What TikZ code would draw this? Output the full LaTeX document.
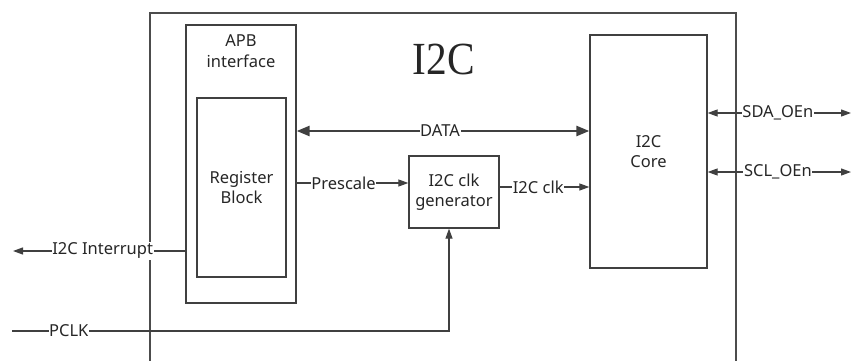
\documentclass[tikz,border=0pt]{standalone}
\usepackage{fontspec}
\setmainfont{Noto Sans}
\newfontfamily\titlefont{Liberation Serif}
\usetikzlibrary{arrows.meta}
\begin{document}
\begin{tikzpicture}[x=1pt,y=-1pt,
  line width=1.2pt, draw=black!75,
  every node/.style={font=\fontsize{16.5}{20.5}\selectfont, text=black!85},
  blk/.style={draw=black!75, line width=1.3pt, inner sep=0pt, align=center},
  lbl/.style={fill=white, inner sep=0.6pt},
  sarr/.style={-{Triangle[length=10pt,width=7pt]}},
  darr/.style={{Triangle[length=10pt,width=7pt]}-{Triangle[length=10pt,width=7pt]}},
  barr/.style={line width=2.6pt, {Triangle[length=13pt,width=10pt]}-{Triangle[length=13pt,width=10pt]}}
]
\useasboundingbox (0,0) rectangle (851,361);
% outer I2C block (open at the bottom)
\draw[line width=1.3pt, draw=black!70] (150,361) -- (150,13) -- (736,13) -- (736,361);
\node (title) at (444,59) {\titlefont\fontsize{46}{46}\selectfont\scalebox{0.9}[1]{I2C}};
% blocks
\node[blk, minimum width=110pt, minimum height=278pt] (apb) at (241,164) {};
\node[align=center, text=black!85] (apbtxt) at (241,51) {APB\\interface};
\node[blk, minimum width=89pt, minimum height=179pt] (reg) at (241.5,187.5) {Register\\Block};
\node[blk, minimum width=117pt, minimum height=233pt] (core) at (648.5,151.5) {I2C\\Core};
\node[blk, minimum width=90pt, minimum height=72pt] (gen) at (454,192) {I2C clk\\generator};
% free ends
\coordinate (sdaR) at (851,113);
\coordinate (sclR) at (851,172);
\coordinate (intL) at (13,251);
\coordinate (pclkL) at (12,331);
\coordinate (pclkC) at (449,331);
% connectors
\draw[barr] (apb.east |- 0,131) -- node[lbl, pos=0.49] (datalbl) {DATA} (core.west |- 0,131);
\draw[darr] (core.east |- 0,113) -- node[lbl, pos=0.49] (sdalbl) {SDA\_OEn} (sdaR);
\draw[darr] (core.east |- 0,172) -- node[lbl, pos=0.49] (scllbl) {SCL\_OEn} (sclR);
\draw[sarr] (apb.east |- 0,183) -- node[lbl, pos=0.42] (prelbl) {Prescale} (gen.west |- 0,183);
\draw[sarr] (gen.east |- 0,187) -- node[lbl, pos=0.43] (clklbl) {I2C clk} (core.west |- 0,187);
\draw[sarr] (apb.west |- 0,251) -- node[lbl, pos=0.48] (intlbl) {I2C Interrupt} (intL);
\draw[sarr] (pclkL) -- node[lbl, pos=0.13] (pclklbl) {PCLK} (pclkC) -- (gen.south -| pclkC);
\end{tikzpicture}
\end{document}
